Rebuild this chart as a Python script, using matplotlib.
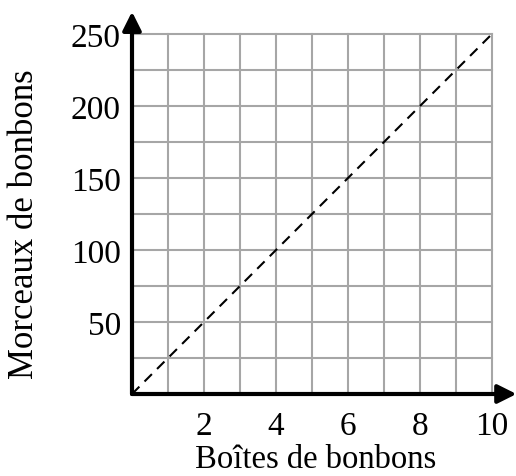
import numpy as np
import matplotlib.pyplot as plt

# data
boites = [0, 10]
morceaux = [0, 250]
xticks = [2, 4, 6, 8, 10]
yticks = [50, 100, 150, 200, 250]

plt.rcParams['font.family'] = ['Liberation Serif', 'DejaVu Serif']

fig = plt.figure(figsize=(5.16, 4.77), dpi=100)
ax = fig.add_axes([132/516, 1 - 395/477, 360/516, 360/477])

ax.set_xlim(0, 10)
ax.set_ylim(0, 250)

# grid
ax.set_xticks(xticks)
ax.set_yticks(yticks)
ax.set_xticks(np.arange(0, 11, 1), minor=True)
ax.set_yticks(np.arange(0, 251, 25), minor=True)
ax.grid(which='both', color='#a6a6a6', lw=1.5, clip_on=False)
ax.set_axisbelow(True)
ax.tick_params(which='both', length=0)
ax.tick_params(axis='x', labelsize=24, pad=12)
ax.tick_params(axis='y', labelsize=24, pad=8)

ax.plot(boites, morceaux, 'k--', lw=1.5, dashes=(5, 3.5))

for s in ['top', 'right', 'left', 'bottom']:
    ax.spines[s].set_visible(False)

# arrows for axes
ax.annotate('', xy=(1.068, 0), xytext=(0, 0), xycoords='axes fraction',
            arrowprops=dict(arrowstyle='-|>', lw=3, color='black',
                            mutation_scale=28, shrinkA=0, shrinkB=0))
ax.annotate('', xy=(0, 1.062), xytext=(0, 0), xycoords='axes fraction',
            arrowprops=dict(arrowstyle='-|>', lw=3, color='black',
                            mutation_scale=28, shrinkA=0, shrinkB=0))

ax.set_xlabel('Boîtes de bonbons', fontsize=23.5)
ax.set_ylabel('Morceaux de bonbons', fontsize=25)
ax.xaxis.set_label_coords(0.511, -0.138)
ax.yaxis.set_label_coords(-0.252, 0.475)

fig.savefig('out.png', dpi=100)
